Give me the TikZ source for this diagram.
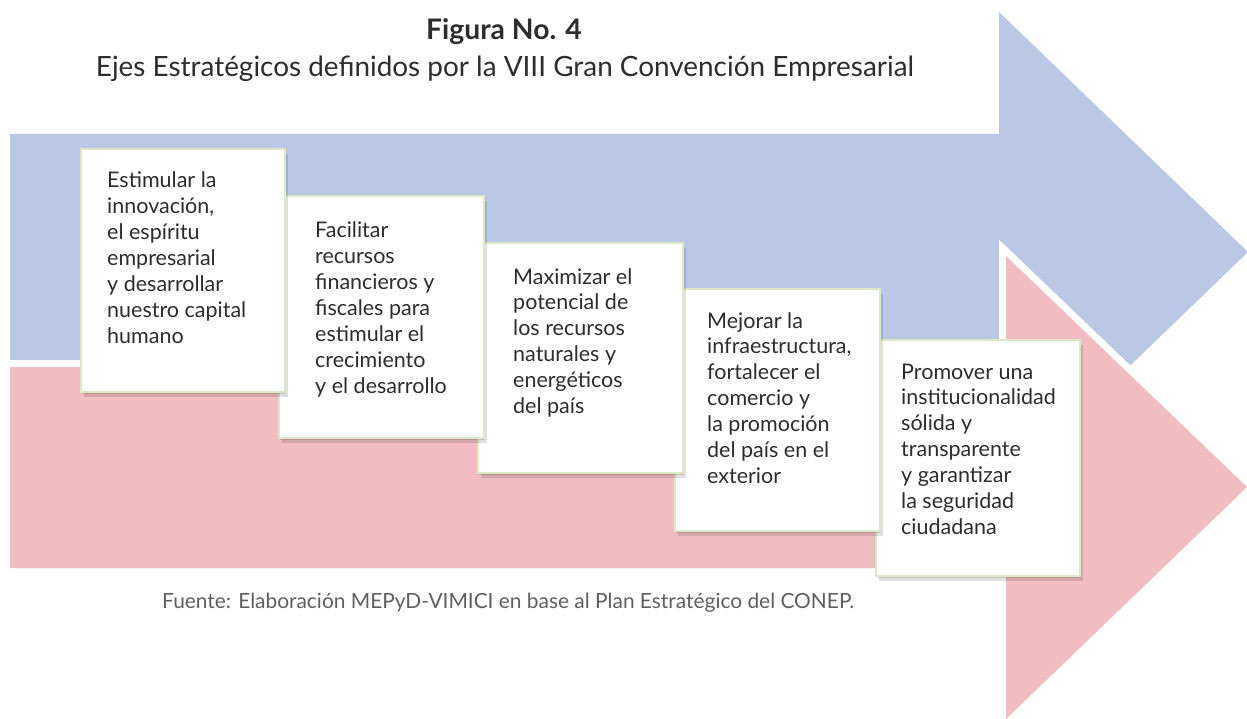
\documentclass[tikz,border=0pt]{standalone}
\usepackage{fontspec}
\setmainfont{Lato}
\usetikzlibrary{shadows}
\definecolor{arrowblue}{RGB}{186,200,229}
\definecolor{arrowpink}{RGB}{241,189,192}
\definecolor{boxline}{RGB}{220,233,199}
\definecolor{txt}{RGB}{45,45,45}
\definecolor{srcgray}{RGB}{95,95,95}
\newcommand{\boxlines}[1]{\parbox[t]{200pt}{\raggedright\fontsize{21.5pt}{25.9pt}\selectfont #1}}
\begin{document}
\begin{tikzpicture}[x=1pt,y=-1pt,
  stepcard/.style={draw=boxline, line width=2.2pt, fill=white, rectangle, anchor=north west,
    inner sep=0pt,
    drop shadow={shadow xshift=1pt, shadow yshift=-2pt, opacity=0.12, fill=black},
    drop shadow={shadow xshift=2.5pt, shadow yshift=-4.5pt, opacity=0.12, fill=black}},
  cardtext/.style={anchor=base west, inner sep=0pt, text=txt},
]
\useasboundingbox (0,0) rectangle (1247,719);
% blue arrow
\fill[arrowblue] (10,134) -- (999,134) -- (999,12) -- (1248,252) -- (999,492) -- (999,360) -- (10,360) -- cycle;
% pink arrow with white outline
\draw[white, line width=14pt, line join=miter] (10,367) -- (1006,367) -- (1006,256) -- (1247,487) -- (1006,719) -- (1006,568) -- (10,568) -- cycle;
\fill[arrowpink] (10,367) -- (1006,367) -- (1006,256) -- (1247,487) -- (1006,719) -- (1006,568) -- (10,568) -- cycle;
% titles
\node[anchor=base, inner sep=0pt, text=txt, font=\fontsize{28.3pt}{32pt}\selectfont\bfseries] (title) at (504,40) {Figura No. 4};
\node[anchor=base, inner sep=0pt, text=txt, font=\fontsize{27.9pt}{32pt}\selectfont] (subtitle) at (505,77) {Ejes Estratégicos definidos por la VIII Gran Convención Empresarial};
% cards (drawn back to front)
\node[stepcard, minimum width=204pt, minimum height=236pt] (b5) at (875,339) {};
\node[cardtext] (t5) at ([xshift=26pt,yshift=-40pt]b5.north west) {\boxlines{Promover una\\institucionalidad\\sólida y\\transparente\\y garantizar\\la seguridad\\ciudadana}};
\node[stepcard, minimum width=205pt, minimum height=242pt] (b4) at (674,288) {};
\node[cardtext] (t4) at ([xshift=33pt,yshift=-40pt]b4.north west) {\boxlines{Mejorar la\\infraestructura,\\fortalecer el\\comercio y\\la promoción\\del país en el\\exterior}};
\node[stepcard, minimum width=205pt, minimum height=230pt] (b3) at (477,242) {};
\node[cardtext] (t3) at ([xshift=36pt,yshift=-42pt]b3.north west) {\boxlines{Maximizar el\\potencial de\\los recursos\\naturales y\\energéticos\\del país}};
\node[stepcard, minimum width=205pt, minimum height=242pt] (b2) at (278,195) {};
\node[cardtext] (t2) at ([xshift=37pt,yshift=-43pt]b2.north west) {\boxlines{Facilitar\\recursos\\financieros y\\fiscales para\\estimular el\\crecimiento\\y el desarrollo}};
\node[stepcard, minimum width=204pt, minimum height=243pt] (b1) at (80,148) {};
\node[cardtext] (t1) at ([xshift=27pt,yshift=-40pt]b1.north west) {\boxlines{Estimular la\\innovación,\\el espíritu\\empresarial\\y desarrollar\\nuestro capital\\humano}};
% source
\node[anchor=base west, inner sep=0pt, text=srcgray, font=\fontsize{20.9pt}{25pt}\selectfont] (source) at (162,608) {Fuente: Elaboración MEPyD-VIMICI en base al Plan Estratégico del CONEP.};
\end{tikzpicture}
\end{document}
